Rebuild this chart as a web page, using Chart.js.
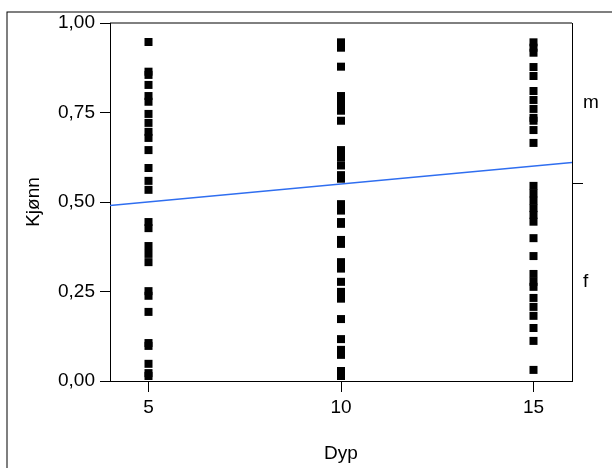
<!DOCTYPE html>
<html>
<head>
<meta charset="utf-8">
<script src="https://cdn.jsdelivr.net/npm/chart.js@4.4.1/dist/chart.umd.min.js"></script>
<style>
  body { margin: 0; background: #fff; }
  #wrap { width: 612px; height: 468px; }
</style>
</head>
<body>
<div id="wrap"><canvas id="plot" width="612" height="468"></canvas></div>
<script>
// Dyp (x) categories and Kjønn values
const dypLevels = [5, 10, 15];
const kjonnDyp5 = [0.947, 0.864, 0.855, 0.827, 0.796, 0.780, 0.746, 0.721, 0.696, 0.679, 0.645, 0.595, 0.559, 0.534,
  0.444, 0.427, 0.377, 0.355, 0.332, 0.251, 0.238, 0.193, 0.106, 0.098, 0.048, 0.022, 0.014];
const kjonnDyp10 = [0.946, 0.931, 0.878, 0.796, 0.776, 0.755, 0.727, 0.645, 0.624, 0.602, 0.575, 0.565, 0.494, 0.476,
  0.444, 0.439, 0.394, 0.383, 0.332, 0.314, 0.277, 0.249, 0.230, 0.173, 0.117, 0.087, 0.073, 0.028, 0.014];
const kjonnDyp15 = [0.946, 0.931, 0.917, 0.877, 0.852, 0.810, 0.785, 0.760, 0.735, 0.727, 0.701, 0.665, 0.545, 0.524,
  0.504, 0.483, 0.464, 0.445, 0.399, 0.349, 0.299, 0.277, 0.263, 0.232, 0.207, 0.182, 0.148, 0.112, 0.031];

// fitted line
const fitX = [4, 16];
const fitY = [0.49, 0.61];

// axis ticks
const xTicks = [5, 10, 15];
const yTicks = [0, 0.25, 0.5, 0.75, 1];
const rightTicks = [0.277, 0.553, 0.777];
const rightLabels = ['f', '', 'm'];

const fnt = { family: 'Liberation Sans, Arial, sans-serif', size: 19 };

const columns = [kjonnDyp5, kjonnDyp10, kjonnDyp15];
const pts = [];
columns.forEach((col, i) => {
  col.forEach(v => pts.push({ x: dypLevels[i], y: v }));
});

const frame = {
  id: 'frame',
  afterDraw(chart) {
    const c = chart.ctx, a = chart.chartArea;
    c.save();
    c.strokeStyle = '#000';
    c.lineWidth = 1;
    c.strokeRect(7, 12, 700, 600);
    c.beginPath();
    c.moveTo(a.left, a.top);
    c.lineTo(a.right, a.top);
    c.stroke();
    c.restore();
  }
};

new Chart(document.getElementById('plot'), {
  type: 'scatter',
  data: {
    datasets: [
      {
        type: 'line',
        data: fitX.map((x, i) => ({ x: x, y: fitY[i] })),
        borderColor: '#2f6ef0',
        borderWidth: 1.5,
        pointRadius: 0,
        fill: false
      },
      {
        data: pts,
        pointStyle: 'rect',
        pointRadius: 5.66,
        backgroundColor: '#000',
        borderWidth: 0
      }
    ]
  },
  options: {
    responsive: false,
    animation: false,
    devicePixelRatio: 1,
    layout: { padding: { top: 23, left: 0, right: 0, bottom: 0 } },
    plugins: { legend: { display: false }, tooltip: { enabled: false } },
    scales: {
      x: {
        type: 'linear',
        min: 4,
        max: 16,
        afterBuildTicks: s => { s.ticks = xTicks.map(v => ({ value: v })); },
        afterFit: s => { s.height = 87; },
        grid: { drawOnChartArea: false, tickLength: 11, tickColor: '#000' },
        border: { color: '#000', width: 1 },
        ticks: { color: '#000', font: fnt, padding: 4, maxRotation: 0, autoSkip: false },
        title: { display: true, text: 'Dyp', color: '#000', font: fnt, padding: { top: 0, bottom: 3 } }
      },
      y: {
        min: 0,
        max: 1,
        afterBuildTicks: s => { s.ticks = yTicks.map(v => ({ value: v })); },
        afterFit: s => { s.width = 110; },
        grid: { drawOnChartArea: false, tickLength: 10, tickColor: '#000' },
        border: { color: '#000', width: 1 },
        ticks: { color: '#000', font: fnt, padding: 5, callback: v => v.toFixed(2).replace('.', ',') },
        title: { display: true, text: 'Kjønn', color: '#000', font: fnt, padding: { top: 22, bottom: 0 } }
      },
      y2: {
        position: 'right',
        min: 0,
        max: 1,
        afterBuildTicks: s => { s.ticks = rightTicks.map(v => ({ value: v })); },
        afterFit: s => { s.width = 40; },
        grid: {
          drawOnChartArea: false,
          tickLength: 11,
          tickColor: ctx => (ctx.index === 1 ? '#000' : 'rgba(0,0,0,0)')
        },
        border: { color: '#000', width: 1 },
        ticks: { color: '#000', font: fnt, padding: 0, callback: (v, i) => rightLabels[i] }
      }
    }
  },
  plugins: [frame]
});
</script>
</body>
</html>
